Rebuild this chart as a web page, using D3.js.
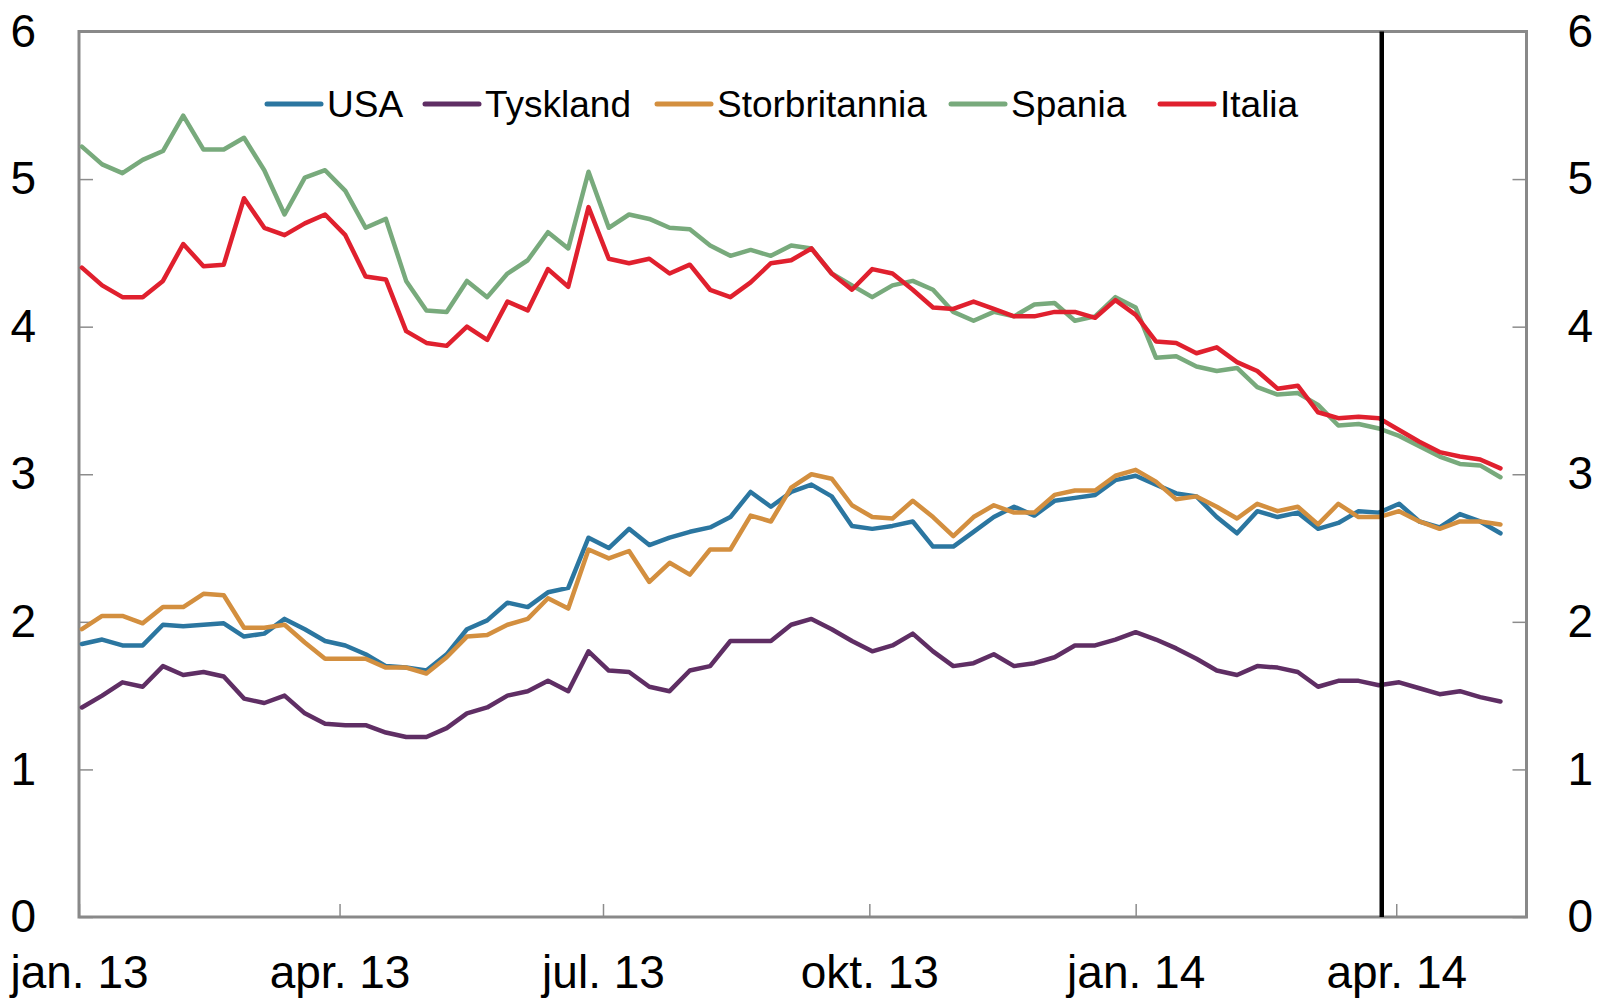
<!DOCTYPE html>
<meta charset="utf-8">
<head>
	<title>Tiårige statsrenter</title>
</head>

<style>
	body { margin: 0; background: #fff; }
	svg text { font-family: "Liberation Sans", Arial, sans-serif; fill: #000; }
	.axis .domain { display: none; }
	.axis line { stroke: #8c8c8c; stroke-width: 1.5; }
	.axis text { font-size: 46px; }
	.legend text { font-size: 37px; }
</style>

<body>

<div id="chart"></div>

<script src="https://d3js.org/d3.v7.min.js"></script>
<script>

// weekly observations, 2 Jan 2013 - 7 May 2014
var dates = d3.timeDay.range(new Date(2013, 0, 2), new Date(2014, 4, 8), 7);

var series = ["USA", "Tyskland", "Storbritannia", "Spania", "Italia"];
var colors = ["#2b76a0", "#5f2e64", "#d38f3f", "#78aa7c", "#e0202e"];

var usa = [1.85, 1.88, 1.84, 1.84, 1.98, 1.97, 1.98, 1.99, 1.90, 1.92, 2.02, 1.95, 1.87, 1.84, 1.78, 1.70, 1.69, 1.67,
	1.78, 1.95, 2.01, 2.13, 2.10, 2.20, 2.23, 2.57, 2.50, 2.63, 2.52, 2.57, 2.61, 2.64, 2.71, 2.88, 2.78, 2.88,
	2.93, 2.85, 2.65, 2.63, 2.65, 2.68, 2.51, 2.51, 2.61, 2.71, 2.78, 2.72, 2.82, 2.84, 2.86, 2.96, 2.99, 2.93,
	2.87, 2.85, 2.71, 2.60, 2.75, 2.71, 2.74, 2.63, 2.67, 2.75, 2.74, 2.80, 2.68, 2.64, 2.73, 2.68, 2.60];

var tyskland = [1.42, 1.50, 1.59, 1.56, 1.70, 1.64, 1.66, 1.63, 1.48, 1.45, 1.50, 1.38, 1.31, 1.30, 1.30, 1.25, 1.22, 1.22,
	1.28, 1.38, 1.42, 1.50, 1.53, 1.60, 1.53, 1.80, 1.67, 1.66, 1.56, 1.53, 1.67, 1.70, 1.87, 1.87, 1.87, 1.98,
	2.02, 1.95, 1.87, 1.80, 1.84, 1.92, 1.80, 1.70, 1.72, 1.78, 1.70, 1.72, 1.76, 1.84, 1.84, 1.88, 1.93, 1.88,
	1.82, 1.75, 1.67, 1.64, 1.70, 1.69, 1.66, 1.56, 1.60, 1.60, 1.57, 1.59, 1.55, 1.51, 1.53, 1.49, 1.46];

var storbritannia = [1.95, 2.04, 2.04, 1.99, 2.10, 2.10, 2.19, 2.18, 1.96, 1.96, 1.98, 1.86, 1.75, 1.75, 1.75, 1.69, 1.69, 1.65,
	1.76, 1.90, 1.91, 1.98, 2.02, 2.16, 2.09, 2.49, 2.43, 2.48, 2.27, 2.40, 2.32, 2.49, 2.49, 2.72, 2.68, 2.91,
	3.00, 2.97, 2.79, 2.71, 2.70, 2.82, 2.71, 2.58, 2.71, 2.79, 2.74, 2.74, 2.86, 2.89, 2.89, 2.99, 3.03, 2.95,
	2.83, 2.85, 2.78, 2.70, 2.80, 2.75, 2.78, 2.66, 2.80, 2.71, 2.71, 2.75, 2.68, 2.63, 2.68, 2.68, 2.66];

var spania = [5.22, 5.10, 5.04, 5.13, 5.19, 5.43, 5.20, 5.20, 5.28, 5.06, 4.76, 5.01, 5.06, 4.92, 4.67, 4.73, 4.31, 4.11,
	4.10, 4.31, 4.20, 4.36, 4.45, 4.64, 4.53, 5.05, 4.67, 4.76, 4.73, 4.67, 4.66, 4.55, 4.48, 4.52, 4.48, 4.55,
	4.53, 4.36, 4.28, 4.20, 4.28, 4.31, 4.25, 4.10, 4.04, 4.10, 4.07, 4.15, 4.16, 4.04, 4.07, 4.20, 4.13, 3.79,
	3.80, 3.73, 3.70, 3.72, 3.59, 3.54, 3.55, 3.47, 3.33, 3.34, 3.31, 3.26, 3.19, 3.12, 3.07, 3.06, 2.98];

var italia = [4.40, 4.28, 4.20, 4.20, 4.31, 4.56, 4.41, 4.42, 4.87, 4.67, 4.62, 4.70, 4.76, 4.62, 4.34, 4.32, 3.97, 3.89,
	3.87, 4.00, 3.91, 4.17, 4.11, 4.39, 4.27, 4.81, 4.46, 4.43, 4.46, 4.36, 4.42, 4.25, 4.20, 4.30, 4.43, 4.45,
	4.53, 4.36, 4.25, 4.39, 4.36, 4.25, 4.13, 4.12, 4.17, 4.12, 4.07, 4.07, 4.10, 4.10, 4.06, 4.18, 4.08, 3.90,
	3.89, 3.82, 3.86, 3.76, 3.70, 3.58, 3.60, 3.42, 3.38, 3.39, 3.38, 3.30, 3.22, 3.15, 3.12, 3.10, 3.04];

var yTicks = [0, 1, 2, 3, 4, 5, 6];
var xTickDates = [new Date(2013, 0, 1), new Date(2013, 3, 1), new Date(2013, 6, 1),
	new Date(2013, 9, 1), new Date(2014, 0, 1), new Date(2014, 3, 1)];
var xTickLabels = ["jan. 13", "apr. 13", "jul. 13", "okt. 13", "jan. 14", "apr. 14"];
var markerDate = new Date(2014, 2, 27);

var allValues = [usa, tyskland, storbritannia, spania, italia];

var svgWidth = 1597, svgHeight = 999;
var plotLeft = 79, plotRight = 1526.5, plotTop = 31.5, plotBottom = 917;

var svg = d3.select("#chart").append("svg")
	.attr("width", svgWidth)
	.attr("height", svgHeight);

var x = d3.scaleTime()
	.domain([new Date(2013, 0, 1), new Date(2014, 4, 16)])
	.range([plotLeft, plotRight]);

var y = d3.scaleLinear()
	.domain([0, 6])
	.range([plotBottom, plotTop]);

var yFormat = d3.format("d");

// axes, ticks pointing into the plot
svg.append("g")
	.attr("class", "axis")
	.attr("transform", "translate(" + plotLeft + ",0)")
	.call(d3.axisLeft(y).tickValues(yTicks).tickFormat(yFormat)
		.tickSizeInner(-14).tickSizeOuter(0).tickPadding(43));

svg.append("g")
	.attr("class", "axis")
	.attr("transform", "translate(" + plotRight + ",0)")
	.call(d3.axisRight(y).tickValues(yTicks).tickFormat(yFormat)
		.tickSizeInner(-14).tickSizeOuter(0).tickPadding(41));

svg.append("g")
	.attr("class", "axis")
	.attr("transform", "translate(0," + plotBottom + ")")
	.call(d3.axisBottom(x).tickValues(xTickDates).tickSizeInner(-13).tickSizeOuter(0).tickPadding(38)
		.tickFormat(function(d, i) { return xTickLabels[i]; }));

// plot frame
svg.append("rect")
	.attr("x", plotLeft)
	.attr("y", plotTop)
	.attr("width", plotRight - plotLeft)
	.attr("height", plotBottom - plotTop)
	.attr("fill", "none")
	.attr("stroke", "#898989")
	.attr("stroke-width", 3);

var line = d3.line()
	.x(function(d, i) { return x(dates[i]); })
	.y(function(d) { return y(d); });

svg.append("g")
	.selectAll("path")
	.data(allValues)
	.enter()
	.append("path")
	.attr("d", line)
	.attr("fill", "none")
	.attr("stroke", function(d, i) { return colors[i]; })
	.attr("stroke-width", 4.5)
	.attr("stroke-linejoin", "round")
	.attr("stroke-linecap", "round");

// vertical marker line
svg.append("line")
	.attr("x1", x(markerDate))
	.attr("x2", x(markerDate))
	.attr("y1", plotTop)
	.attr("y2", plotBottom)
	.attr("stroke", "#000")
	.attr("stroke-width", 4.5);

// legend
var legendX = [267, 425, 657, 951, 1160];
var legendY = 104;

var legend = svg.append("g")
	.attr("class", "legend")
	.selectAll("g")
	.data(series)
	.enter()
	.append("g")
	.attr("transform", function(d, i) { return "translate(" + legendX[i] + "," + legendY + ")"; });

legend.append("line")
	.attr("x1", 0)
	.attr("x2", 54)
	.attr("stroke", function(d, i) { return colors[i]; })
	.attr("stroke-width", 5)
	.attr("stroke-linecap", "round");

legend.append("text")
	.attr("x", 60)
	.attr("y", 12.5)
	.text(function(d) { return d; });

</script>
</body>
</html>
